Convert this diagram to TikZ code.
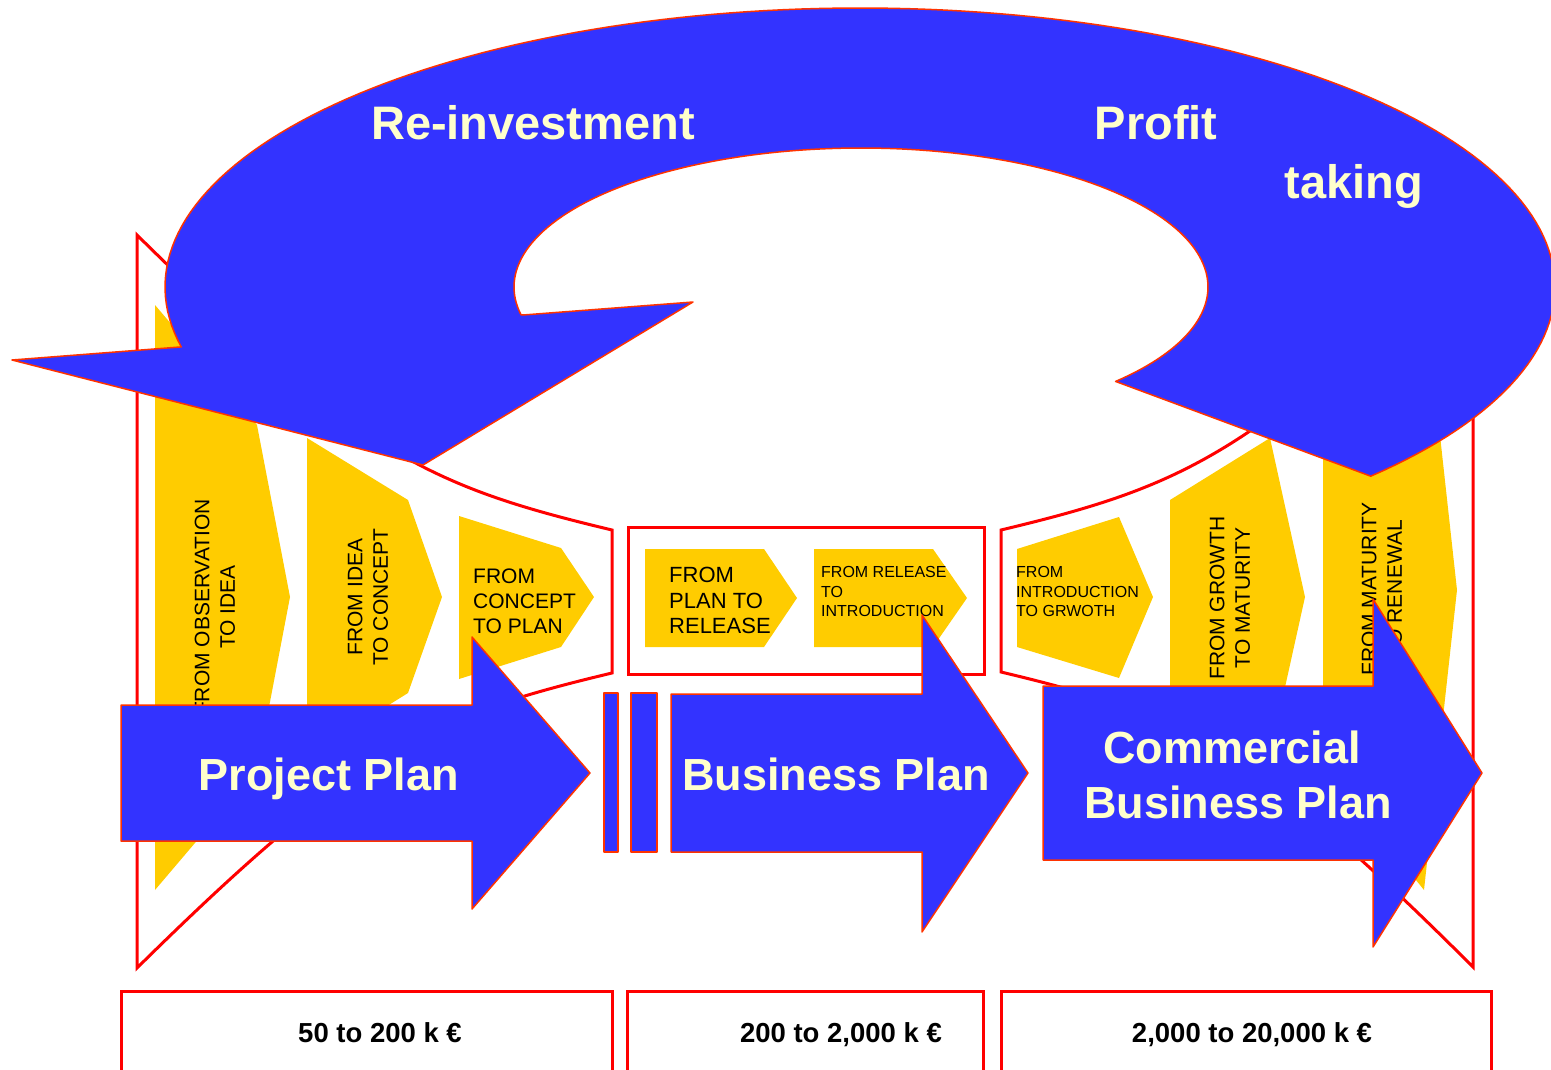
\documentclass[tikz,border=0pt]{standalone}
\usepackage{fontspec}
\setmainfont{Liberation Sans}
\definecolor{bluec}{RGB}{51,51,255}
\definecolor{edgec}{RGB}{255,51,0}
\definecolor{redc}{RGB}{255,0,0}
\definecolor{yellowc}{RGB}{255,204,0}
\definecolor{lightc}{RGB}{255,255,204}
\begin{document}
\begin{tikzpicture}[x=1pt,y=-1pt,
  redline/.style={draw=redc, line width=3pt},
  bluesh/.style={fill=bluec, draw=edgec, line width=1.5pt, line join=round},
  chev/.style={fill=yellowc},
  vtext/.style={inner sep=0pt, rotate=90, align=center, font=\fontsize{21}{25.5}\selectfont},
  htext/.style={inner sep=0pt, anchor=west, align=left},
  bigtext/.style={inner sep=0pt, anchor=base, text=lightc, font=\bfseries\fontsize{45}{54}\selectfont},
  toptext/.style={inner sep=0pt, anchor=base, text=lightc, font=\bfseries\fontsize{47}{56}\selectfont},
  costtext/.style={inner sep=0pt, anchor=base, font=\bfseries\fontsize{27.5}{33}\selectfont}]
\useasboundingbox (0,0) rectangle (1551,1070);
\clip (0,0) rectangle (1551,1070);

% red funnels and frames
\draw[redline] (137,235) .. controls (360,455) and (432,487) .. (612,530) -- (612,673)
  .. controls (432,716) and (360,748) .. (137,968) -- cycle;
\draw[redline] (1473,235) .. controls (1253,455) and (1181,487) .. (1001,530) -- (1001,672)
  .. controls (1181,715) and (1253,747) .. (1473,967) -- cycle;
\draw[redline] (628,527) rectangle (984,674);

% bottom cost boxes
\draw[redline] (121,1090) -- (121,991) -- (612,991) -- (612,1090);
\draw[redline] (627,1090) -- (627,991) -- (983,991) -- (983,1090);
\draw[redline] (1001,1090) -- (1001,991) -- (1491,991) -- (1491,1090);
\node[costtext] (c1) at (380,1042) {50 to 200 k €};
\node[costtext] (c2) at (841,1042) {200 to 2,000 k €};
\node[costtext] (c3) at (1252,1042) {2,000 to 20,000 k €};

% yellow chevrons
\fill[chev] (155,305) -- (257,425) -- (290,597) -- (257,770) -- (155,890) -- cycle;
\fill[chev] (307,438) -- (408,500) -- (442,597) -- (408,693) -- (307,756) -- cycle;
\fill[chev] (459,516) -- (561,548) -- (594,597) -- (561,647) -- (459,679) -- cycle;
\fill[chev] (645,549) -- (764,549) -- (797,598) -- (764,647) -- (645,647) -- cycle;
\fill[chev] (814,549) -- (933,549) -- (967,598) -- (933,647) -- (814,647) -- cycle;
\fill[chev] (1017,549) -- (1119,517) -- (1153,597) -- (1119,678) -- (1017,647) -- cycle;
\fill[chev] (1170,500) -- (1270,438) -- (1305,597) -- (1270,755) -- (1170,694) -- cycle;
\fill[chev] (1323,415) -- (1424,290) -- (1457,590) -- (1424,890) -- (1323,765) -- cycle;

% chevron texts
\node[vtext] (s1) at (215,607) {FROM OBSERVATION\\TO IDEA};
\node[vtext] (s2) at (368,597) {FROM IDEA\\TO CONCEPT};
\node[htext, font=\fontsize{21}{25}\selectfont] (s3) at (473,601) {FROM\\CONCEPT\\TO PLAN};
\node[htext, font=\fontsize{22}{25.5}\selectfont] (s4) at (669,600.5) {FROM\\PLAN TO\\RELEASE};
\node[htext, font=\fontsize{16}{19.5}\selectfont] (s5) at (821,591.5) {FROM RELEASE\\TO\\INTRODUCTION};
\node[htext, font=\fontsize{16}{19.5}\selectfont] (s6) at (1016,591.5) {FROM\\INTRODUCTION\\TO GRWOTH};
\node[vtext] (s7) at (1230,598) {FROM GROWTH\\TO MATURITY};
\node[vtext] (s8) at (1382,589) {FROM MATURITY\\TO RENEWAL};

% blue plan arrows
\draw[bluesh] (121,705) -- (472,705) -- (472,637) -- (590,773) -- (472,909) -- (472,841) -- (121,841) -- cycle;
\draw[bluesh] (604,693) rectangle (618,852);
\draw[bluesh] (631,693) rectangle (657,852);
\draw[bluesh] (671,694) -- (922,694) -- (922,615) -- (1028,773) -- (922,932) -- (922,852) -- (671,852) -- cycle;
\draw[bluesh] (1043,686) -- (1373,686) -- (1373,599) -- (1482,773) -- (1373,947) -- (1373,860) -- (1043,860) -- cycle;
\node[bigtext] (pp) at (329,790) {Project Plan};
\node[bigtext] (bp) at (836,790) {Business Plan};
\node[bigtext] (cb1) at (1232,763) {Commercial};
\node[bigtext] (cb2) at (1238,818) {Business Plan};

% big curved arrow
\draw[bluesh]
  plot[variable=\t, domain=0:235.1, samples=160] ({860+695*cos(42.7-\t)},{287+279*sin(42.7-\t)})
  -- (12,360) -- (423,465) -- (693,302) -- (523,315)
  -- plot[variable=\t, domain=-191.6:42.8, samples=140] ({861+347*cos(\t)},{287+139*sin(\t)})
  -- cycle;
\node[toptext] (ri) at (533,140) {Re-investment};
\node[toptext] (pr) at (1156,140) {Profit};
\node[toptext] (tk) at (1354,198) {taking};
\end{tikzpicture}
\end{document}
